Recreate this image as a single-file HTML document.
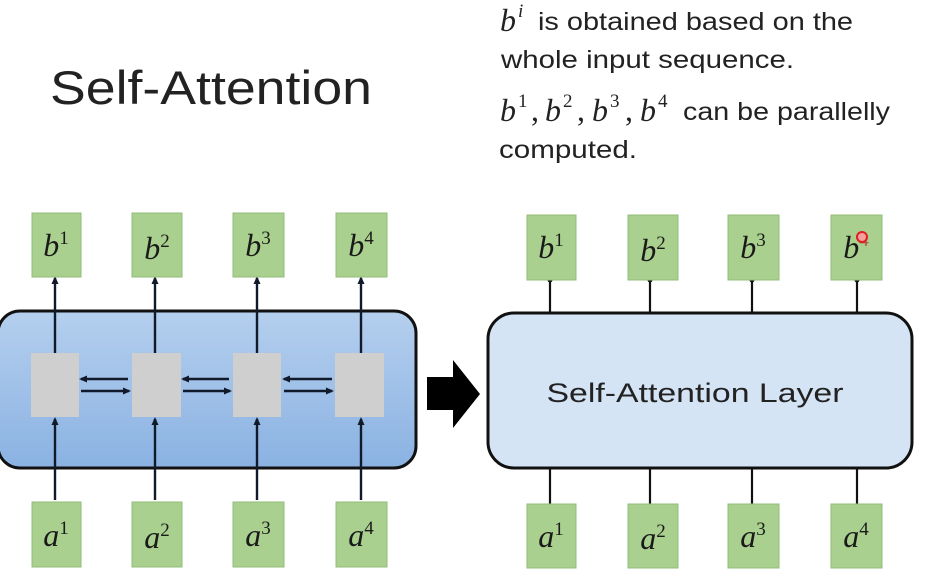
<!DOCTYPE html>
<html><head><meta charset="utf-8"><style>
html,body{margin:0;padding:0;background:#fff;}
svg{display:block;}
</style></head><body>
<svg width="927" height="583" viewBox="0 0 927 583" xmlns="http://www.w3.org/2000/svg">
<defs>
<linearGradient id="bl" x1="0" y1="0" x2="0" y2="1">
<stop offset="0" stop-color="#b5cfee"/><stop offset="1" stop-color="#8ab2e2"/>
</linearGradient>
<marker id="ah" markerWidth="9" markerHeight="9" refX="6" refY="4.5" orient="auto" markerUnits="userSpaceOnUse">
<path d="M0,1 L8,4.5 L0,8 z" fill="#111a2a"/>
</marker>
</defs>
<text x="50" y="104" font-family="Liberation Sans, sans-serif" font-size="47" fill="#222" textLength="322" lengthAdjust="spacingAndGlyphs">Self-Attention</text>
<g font-family="Liberation Sans, sans-serif" font-size="25" fill="#222">
<text x="500" y="31" font-family="Liberation Serif, serif" font-style="italic" font-size="32">b</text>
<text x="518" y="17" font-family="Liberation Serif, serif" font-style="italic" font-size="19">i</text>
<text x="538" y="30" textLength="315" lengthAdjust="spacingAndGlyphs">is obtained based on the</text>
<text x="501" y="68" textLength="293" lengthAdjust="spacingAndGlyphs">whole input sequence.</text>
<g font-family="Liberation Serif, serif" font-size="32">
<text x="500" y="121" font-style="italic">b</text><text x="518" y="107" font-size="19">1</text><text x="531" y="121">,</text>
<text x="545" y="121" font-style="italic">b</text><text x="563" y="107" font-size="19">2</text><text x="577" y="121">,</text>
<text x="592" y="121" font-style="italic">b</text><text x="610" y="107" font-size="19">3</text><text x="625" y="121">,</text>
<text x="640" y="121" font-style="italic">b</text><text x="658" y="107" font-size="19">4</text>
</g>
<text x="683" y="120" textLength="207" lengthAdjust="spacingAndGlyphs">can be parallelly</text>
<text x="499" y="158" textLength="138" lengthAdjust="spacingAndGlyphs">computed.</text>
</g>

<rect x="-2" y="311" width="418" height="157" rx="22" fill="url(#bl)" stroke="#111" stroke-width="3"/>
<g fill="#cfcfcf">
<rect x="31" y="353" width="48" height="64"/>
<rect x="132" y="353" width="49" height="64"/>
<rect x="233" y="353" width="48" height="64"/>
<rect x="335" y="353" width="49" height="64"/>
</g>
<g stroke="#111a2a" stroke-width="2.4" fill="none" marker-end="url(#ah)">
<line x1="128" y1="379" x2="81" y2="379"/>
<line x1="81" y1="391" x2="129" y2="391"/>
<line x1="229" y1="379" x2="183" y2="379"/>
<line x1="183" y1="391" x2="230" y2="391"/>
<line x1="332" y1="379" x2="284" y2="379"/>
<line x1="284" y1="391" x2="332" y2="391"/>
<line x1="55" y1="353" x2="55" y2="278"/>
<line x1="155" y1="353" x2="155" y2="278"/>
<line x1="257" y1="353" x2="257" y2="278"/>
<line x1="361" y1="353" x2="361" y2="278"/>
<line x1="55" y1="500" x2="55" y2="419"/>
<line x1="155" y1="500" x2="155" y2="419"/>
<line x1="257" y1="500" x2="257" y2="419"/>
<line x1="361" y1="500" x2="361" y2="419"/>
</g>

<path d="M427,377 L453,377 L453,360 L480,394 L453,428 L453,410 L427,410 z" fill="#000"/>

<g stroke="#111" stroke-width="2.2">
<line x1="550" y1="280" x2="550" y2="314"/><line x1="650" y1="280" x2="650" y2="314"/>
<line x1="752" y1="280" x2="752" y2="314"/><line x1="857" y1="280" x2="857" y2="314"/>
<line x1="550" y1="467" x2="550" y2="504"/><line x1="650" y1="467" x2="650" y2="504"/>
<line x1="752" y1="467" x2="752" y2="504"/><line x1="857" y1="467" x2="857" y2="504"/>
</g>
<g fill="#111">
<circle cx="550" cy="280" r="2.5"/><circle cx="650" cy="280" r="2.5"/><circle cx="752" cy="280" r="2.5"/><circle cx="857" cy="280" r="2.5"/>
</g>
<rect x="488" y="313" width="424" height="155" rx="26" fill="#d5e4f4" stroke="#111" stroke-width="3"/>
<text x="695" y="402" text-anchor="middle" font-family="Liberation Sans, sans-serif" font-size="27" fill="#222" textLength="297" lengthAdjust="spacingAndGlyphs">Self-Attention Layer</text>

<g fill="#a9d08e" stroke="#93bd78" stroke-width="1">
<rect x="32" y="213" width="49" height="64"/><rect x="132" y="213" width="50" height="64"/>
<rect x="233" y="213" width="51" height="64"/><rect x="336" y="213" width="51" height="64"/>
<rect x="32" y="502" width="49" height="65"/><rect x="132" y="502" width="50" height="65"/>
<rect x="233" y="502" width="51" height="65"/><rect x="336" y="502" width="51" height="65"/>
<rect x="527" y="215" width="49" height="65"/><rect x="628" y="215" width="50" height="65"/>
<rect x="728" y="215" width="51" height="65"/><rect x="831" y="215" width="51" height="65"/>
<rect x="527" y="504" width="49" height="64"/><rect x="628" y="504" width="50" height="64"/>
<rect x="728" y="504" width="51" height="64"/><rect x="831" y="504" width="51" height="64"/>
</g>
<g font-family="Liberation Serif, serif" font-size="32" fill="#1a1a1a" text-anchor="middle">
<text x="56" y="256"><tspan font-style="italic">b</tspan><tspan font-size="19" dy="-12">1</tspan></text>
<text x="157" y="259"><tspan font-style="italic">b</tspan><tspan font-size="19" dy="-12">2</tspan></text>
<text x="258" y="256"><tspan font-style="italic">b</tspan><tspan font-size="19" dy="-12">3</tspan></text>
<text x="361" y="256"><tspan font-style="italic">b</tspan><tspan font-size="19" dy="-12">4</tspan></text>
<text x="56" y="546"><tspan font-style="italic">a</tspan><tspan font-size="19" dy="-12">1</tspan></text>
<text x="157" y="548"><tspan font-style="italic">a</tspan><tspan font-size="19" dy="-12">2</tspan></text>
<text x="258" y="546"><tspan font-style="italic">a</tspan><tspan font-size="19" dy="-12">3</tspan></text>
<text x="361" y="546"><tspan font-style="italic">a</tspan><tspan font-size="19" dy="-12">4</tspan></text>
<text x="551" y="258"><tspan font-style="italic">b</tspan><tspan font-size="19" dy="-12">1</tspan></text>
<text x="653" y="261"><tspan font-style="italic">b</tspan><tspan font-size="19" dy="-12">2</tspan></text>
<text x="753" y="258"><tspan font-style="italic">b</tspan><tspan font-size="19" dy="-12">3</tspan></text>
<text x="856" y="258"><tspan font-style="italic">b</tspan><tspan font-size="19" dy="-12" fill="#b05a4a">4</tspan></text>
<text x="551" y="547"><tspan font-style="italic">a</tspan><tspan font-size="19" dy="-12">1</tspan></text>
<text x="653" y="549"><tspan font-style="italic">a</tspan><tspan font-size="19" dy="-12">2</tspan></text>
<text x="753" y="547"><tspan font-style="italic">a</tspan><tspan font-size="19" dy="-12">3</tspan></text>
<text x="856" y="547"><tspan font-style="italic">a</tspan><tspan font-size="19" dy="-12">4</tspan></text>
</g>
<circle cx="862" cy="237" r="5" fill="#f5a0a0" stroke="#e02020" stroke-width="2"/>
</svg>
</body></html>
